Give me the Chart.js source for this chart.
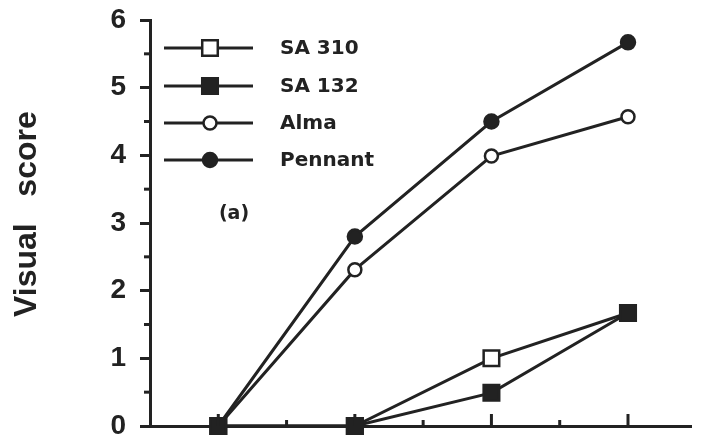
<!DOCTYPE html>
<html>
<head>
<meta charset="utf-8">
<script src="https://cdn.jsdelivr.net/npm/chart.js@4.4.0/dist/chart.umd.min.js"></script>
<style>
  html, body { margin: 0; padding: 0; background: #fff; }
  #wrap { width: 705px; height: 441px; }
</style>
</head>
<body>
<div id="wrap"><canvas id="chart"></canvas></div>
<script>
// data
const xVals = [1, 3, 5, 7];
const sa310 = [0, 0, 1.0, 1.67];
const sa132 = [0, 0, 0.49, 1.67];
const alma = [0, 2.31, 3.99, 4.57];
const pennant = [0, 2.8, 4.5, 5.67];
const yTicks = [0, 1, 2, 3, 4, 5, 6];
const legendOrder = ["SA 310", "SA 132", "Alma", "Pennant"];

const ink = '#222';

function pts(vals) {
    return vals.map((v, i) => ({x: xVals[i], y: v}));
}

// drawn in this order so the filled square sits on top at the zero points
const series = [
    {label: "SA 132", data: pts(sa132), pointStyle: 'rect', pointRadius: 11, pointBackgroundColor: ink},
    {label: "SA 310", data: pts(sa310), pointStyle: 'rect', pointRadius: 11, pointBackgroundColor: '#fff'},
    {label: "Alma", data: pts(alma), pointStyle: 'circle', pointRadius: 6.5, pointBackgroundColor: '#fff'},
    {label: "Pennant", data: pts(pennant), pointStyle: 'circle', pointRadius: 7, pointBackgroundColor: ink}
];

const datasets = series.map(s => ({
    label: s.label,
    data: s.data,
    borderColor: ink,
    borderWidth: 3,
    pointStyle: s.pointStyle,
    pointRadius: s.pointRadius,
    pointHoverRadius: s.pointRadius,
    pointBackgroundColor: s.pointBackgroundColor,
    pointBorderColor: ink,
    pointBorderWidth: 2.5,
    tension: 0,
    clip: false
}));

// minor ticks, upward x ticks, inset legend and panel letter
const extras = {
    id: 'extras',
    afterDraw(chart) {
        const ctx = chart.ctx;
        const xs = chart.scales.x, ys = chart.scales.y;
        const area = chart.chartArea;
        ctx.save();
        ctx.strokeStyle = ink;
        ctx.lineWidth = 3;
        // y minor ticks
        for (let v = 0.5; v < 6; v += 1) {
            const py = ys.getPixelForValue(v);
            ctx.beginPath();
            ctx.moveTo(area.left - 6, py);
            ctx.lineTo(area.left, py);
            ctx.stroke();
        }
        // x ticks pointing up
        for (let v = 1; v <= 7; v++) {
            const px = xs.getPixelForValue(v);
            const len = v % 2 ? 12 : 6;
            ctx.beginPath();
            ctx.moveTo(px, area.bottom);
            ctx.lineTo(px, area.bottom - len);
            ctx.stroke();
        }
        // legend
        const rows = [48, 86, 123, 160];
        legendOrder.forEach((name, i) => {
            const ds = chart.data.datasets.find(d => d.label === name);
            const y = rows[i];
            ctx.lineWidth = 3;
            ctx.strokeStyle = ink;
            ctx.beginPath();
            ctx.moveTo(164, y);
            ctx.lineTo(253, y);
            ctx.stroke();
            ctx.fillStyle = ds.pointBackgroundColor;
            ctx.lineWidth = ds.pointBorderWidth;
            ctx.beginPath();
            if (ds.pointStyle === 'rect') {
                const h = ds.pointRadius * Math.SQRT1_2;
                ctx.rect(210 - h, y - h, 2 * h, 2 * h);
            } else {
                ctx.arc(210, y, ds.pointRadius, 0, Math.PI * 2);
            }
            ctx.fill();
            ctx.stroke();
            ctx.fillStyle = ink;
            ctx.font = 'bold 20px "DejaVu Sans"';
            ctx.textBaseline = 'middle';
            ctx.textAlign = 'left';
            ctx.fillText(name, 280, y + 1);
        });
        ctx.font = 'bold 19px "DejaVu Sans"';
        ctx.textAlign = 'center';
        ctx.fillText('(a)', 234, 214);
        ctx.restore();
    }
};

new Chart(document.getElementById('chart'), {
    type: 'line',
    data: {datasets: datasets},
    options: {
        responsive: true,
        maintainAspectRatio: false,
        animation: false,
        layout: {padding: {top: 20, right: 0, bottom: 0, left: 0}},
        plugins: {legend: {display: false}, tooltip: {enabled: false}},
        scales: {
            x: {
                type: 'linear',
                min: 0,
                max: 7.93,
                ticks: {display: false},
                grid: {display: false},
                border: {display: true, color: ink, width: 3},
                afterFit: s => { s.height = 15; s.paddingLeft = 0; s.paddingRight = 0; }
            },
            y: {
                min: 0,
                max: 6,
                afterBuildTicks: s => { s.ticks = yTicks.map(v => ({value: v})); },
                ticks: {
                    color: ink,
                    padding: 14,
                    font: {family: '"Liberation Sans", Arial', size: 28, weight: 'bold'}
                },
                grid: {drawOnChartArea: false, color: ink, tickLength: 10, tickWidth: 3, tickColor: ink},
                border: {display: true, color: ink, width: 3},
                title: {
                    display: true,
                    text: '  Visual   score',
                    color: ink,
                    padding: {top: 8, bottom: 0},
                    font: {family: '"Liberation Sans", Arial', size: 32, weight: 'bold'}
                },
                afterFit: s => { s.width = 150; s.paddingTop = 0; s.paddingBottom = 0; }
            }
        }
    },
    plugins: [extras]
});
</script>
</body>
</html>
